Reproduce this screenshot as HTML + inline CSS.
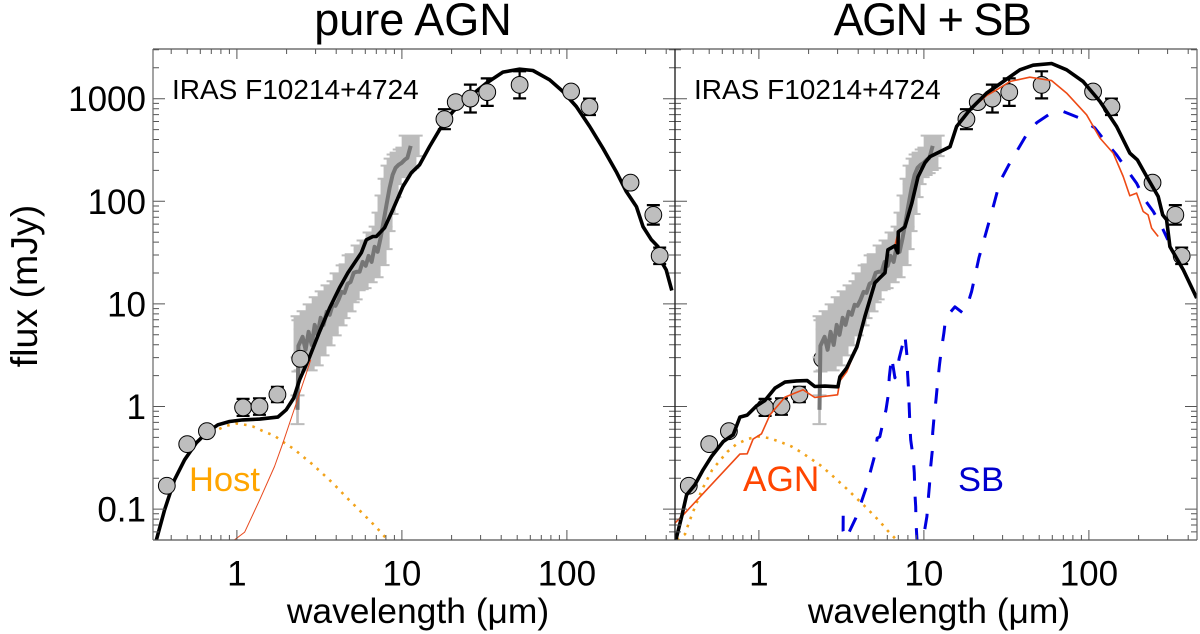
<!DOCTYPE html>
<html lang="en">
<head>
<meta charset="utf-8">
<title>SED fits of IRAS F10214+4724</title>
<style>
html,body{margin:0;padding:0;background:#fff;}
svg{display:block;font-family:"Liberation Sans",sans-serif;}
</style>
</head>
<body>
<svg id="chart" xmlns="http://www.w3.org/2000/svg" width="1200" height="634" viewBox="0 0 1200 634">
  <rect width="1200" height="634" fill="#fff"/>
  <defs>
    <clipPath id="clip-left"><rect x="153" y="49" width="522" height="491"/></clipPath>
    <clipPath id="clip-right"><rect x="675" y="49" width="522" height="491"/></clipPath>
  </defs>
  <g id="left-panel"></g>
  <g id="right-panel"></g>
  <text x="413" y="35" font-size="45" text-anchor="middle">pure AGN</text>
  <text x="932" y="35" font-size="45" letter-spacing="-1.5" text-anchor="middle">AGN + SB</text>
  <text transform="translate(37,286) rotate(-90)" font-size="37.5" text-anchor="middle">flux (mJy)</text>
  <text x="418" y="623" font-size="35.4" text-anchor="middle">wavelength (μm)</text>
  <text x="939" y="623" font-size="35.4" text-anchor="middle">wavelength (μm)</text>
  <text x="172" y="99" font-size="28">IRAS F10214+4724</text>
  <text x="694" y="99" font-size="28">IRAS F10214+4724</text>
  <text x="189" y="491" font-size="34.5" fill="#ffa500">Host</text>
  <text x="743" y="491" font-size="35.2" fill="#ff4500">AGN</text>
  <text x="958" y="491" font-size="34.5" fill="#0000cd">SB</text>
</svg>
<script>
// Photometry: wavelength (um), flux (mJy), symmetric error (dex, 0 = no visible bar)
const photWave = [0.376,0.50,0.658,1.09,1.37,1.76,2.42,18.1,21.2,26,32.9,51.7,106,137,243,334,365];
const photFlux = [0.169,0.43,0.575,0.98,1.0,1.31,2.92,632,927,1004,1159,1365,1175,834,152,73.8,29.4];
const photErrDex = [0,0,0,0.083,0.08,0.075,0,0.0975,0,0.136,0.134,0.132,0,0.08,0,0.095,0.08];

// IRS / near-IR spectrum: wavelength (um), flux (mJy), error (dex)
const specWave = [2.33,2.36,2.50,2.61,2.72,2.84,2.96,3.08,3.22,3.35,3.50,3.65,3.80,3.96,4.13,4.31,4.49,4.69,4.89,5.10,5.32,5.54,5.78,6.03,6.28,6.55,6.83,7.12,7.43,7.74,8.07,8.42,8.78,9.16,9.55,9.96,10.4,10.8,11.3];
const specFlux = [0.93,3.9,4.78,3.57,5.35,3.99,6.25,5.0,7.32,6.25,8.37,7.83,9.8,9.58,11.0,13.1,12.8,15.7,16.4,20.1,20.6,20.6,25.7,23.5,29.4,25.7,36.0,32.2,44,63,92.5,135,181,212,227,237,254,265,347];
const specErrDex = [0.14,0.25,0.2,0.2,0.2,0.2,0.2,0.2,0.2,0.2,0.2,0.2,0.19,0.19,0.18,0.18,0.18,0.18,0.17,0.17,0.17,0.16,0.16,0.16,0.15,0.15,0.14,0.13,0.11,0.09,0.09,0.09,0.09,0.09,0.1,0.1,0.1,0.1,0.1];

// Pure-AGN panel model curves (log10 um, log10 mJy)
const leftModelLogWave = [-.488,-.438,-.378,-.317,-.246,-.182,-.115,-.044,.036,.138,.248,.299,.344,.38,.441,.501,.562,.622,.673,.754,.784,.824,.845,.895,.945,1.006,1.057,1.107,1.168,1.228,1.309,1.41,1.512,1.612,1.713,1.794,1.895,1.976,2.057,2.138,2.218,2.299,2.36,2.421,2.461,2.512,2.552,2.572,2.602,2.636];
const leftModelLogFlux = [-1.299,-1.007,-.714,-.519,-.354,-.253,-.178,-.146,-.13,-.123,-.103,-.032,.082,.26,.487,.731,.959,1.157,1.303,1.498,1.625,1.657,1.657,1.742,1.917,2.144,2.278,2.356,2.534,2.697,2.875,3.021,3.152,3.259,3.288,3.275,3.184,3.07,2.924,2.729,2.518,2.29,2.096,1.949,1.754,1.625,1.559,1.413,1.332,1.131];
const leftAgnLogWave = [-.014,.047,.138,.228,.279,.36,.421,.447];
const leftAgnLogFlux = [-1.299,-1.224,-.909,-.585,-.357,.033,.326,.455];
const leftHostLogWave = [-.192,-.139,-.071,-.004,.062,.097,.164,.229,.285,.346,.40,.454,.507,.56,.609,.659,.708,.76,.811,.859,.906,.932];
const leftHostLogFlux = [-.315,-.244,-.191,-.166,-.181,-.195,-.244,-.286,-.351,-.415,-.487,-.558,-.636,-.714,-.792,-.877,-.955,-1.039,-1.121,-1.202,-1.287,-1.348];

// AGN + SB panel model curves (log10 um, log10 mJy)
const rightModelLogWave = [-.503,-.468,-.438,-.388,-.338,-.287,-.216,-.156,-.115,-.071,-.014,.036,.097,.158,.228,.293,.339,.4,.479,.491,.533,.594,.642,.703,.733,.764,.782,.824,.842,.845,.885,.927,.964,1.006,1.036,1.097,1.158,1.198,1.279,1.38,1.481,1.582,1.662,1.774,1.865,1.965,2.067,2.168,2.248,2.293,2.35,2.42,2.447,2.471,2.491,2.572,2.653];
const rightModelLogFlux = [-1.299,-1.072,-.861,-.763,-.617,-.487,-.341,-.276,-.103,-.084,.007,.058,.179,.238,.25,.253,.195,.199,.192,.289,.377,.582,.874,1.206,1.254,1.303,1.527,1.566,1.498,1.703,1.751,1.985,2.239,2.375,2.434,2.483,2.531,2.729,2.892,3.055,3.168,3.282,3.327,3.343,3.282,3.168,2.973,2.729,2.47,2.405,2.242,2.047,1.868,1.82,1.559,1.332,1.057];
const rightAgnLogWave = [-.509,-.459,-.115,-.071,-.035,.016,.067,.158,.268,.339,.477,.491,.533,.594,.642,.703,.733,.764,.782,.824,.845,.885,.927,.964,1.006,1.036,1.097,1.158,1.198,1.279,1.38,1.441,1.521,1.642,1.774,1.865,1.986,2.067,2.147,2.208,2.248,2.289,2.329,2.359,2.38,2.42];
const rightAgnLogFlux = [-1.136,-1.056,-.464,-.461,-.318,-.266,-.081,.092,.163,.088,.114,.25,.34,.582,.874,1.206,1.254,1.303,1.527,1.566,1.703,1.751,1.985,2.239,2.375,2.434,2.483,2.531,2.729,2.892,3.03,3.087,3.168,3.21,3.177,3.055,2.843,2.616,2.47,2.242,2.054,2.08,1.901,1.868,1.739,1.657];
const rightHostLogWave = [-.497,-.448,-.424,-.398,-.347,-.283,-.236,-.192,-.139,-.071,-.004,.062,.133,.198,.259,.319,.374,.428,.481,.533,.584,.635,.683,.733,.78,.828];
const rightHostLogFlux = [-1.299,-1.244,-1.131,-1.023,-.819,-.617,-.526,-.442,-.37,-.318,-.292,-.308,-.347,-.39,-.448,-.513,-.575,-.649,-.727,-.802,-.883,-.961,-1.039,-1.121,-1.209,-1.289];
const rightSbLogWave = [.511,.51,.524,.545,.588,.622,.653,.679,.703,.717,.733,.745,.77,.784,.79,.804,.824,.838,.85,.875,.885,.899,.901,.907,.911,.915,.92,.935,.942,.945,.95,.952,.958,.976,1.002,1.018,1.026,1.034,1.041,1.05,1.053,1.062,1.073,1.083,1.093,1.104,1.121,1.132,1.188,1.232,1.259,1.289,1.309,1.333,1.41,1.461,1.521,1.562,1.622,1.683,1.764,1.844,1.945,2.036,2.107,2.168,2.238,2.289,2.339,2.39,2.441,2.479];
const rightSbLogFlux = [-1.065,-1.211,-1.289,-1.231,-1.085,-.926,-.78,-.617,-.471,-.308,-.295,-.208,-.032,.114,.289,.484,.28,.358,.472,.631,.699,.472,.319,.163,0,-.178,-.325,-.5,-.646,-.828,-.975,-1.134,-1.299,-1.494,-1.231,-1.072,-.909,-.763,-.585,-.439,-.256,-.1,.065,.231,.39,.536,.718,.865,.972,.916,.962,1.121,1.267,1.449,1.888,2.193,2.375,2.485,2.648,2.765,2.853,2.875,2.811,2.716,2.567,2.453,2.29,2.177,2.015,1.901,1.754,1.625];

// Axis ticks
const xTickValues = [1,10,100];
const xTickLabels = ['1','10','100'];
const yTickValues = [0.1,1,10,100,1000];
const yTickLabels = ['0.1','1','10','100','1000'];
const minorMultiples = [2,3,4,5,6,7,8,9];

// Axis ranges and geometry
const xLogMin = -0.5085, xLogMax = 2.6551, yLogMin = -1.301, yLogMax = 3.4846;
const plotTop = 49, plotBottom = 540, plotWidth = 522;
const NS = 'http://www.w3.org/2000/svg';

function xFromLog(panelLeft, lw){ return panelLeft + (lw - xLogMin) / (xLogMax - xLogMin) * plotWidth; }
function yFromLog(lf){ return plotBottom - (lf - yLogMin) / (yLogMax - yLogMin) * (plotBottom - plotTop); }
function xFromWave(panelLeft, w){ return xFromLog(panelLeft, Math.log10(w)); }
function yFromFlux(f){ return yFromLog(Math.log10(f)); }

function make(tag, parent, attrs){
  const el = document.createElementNS(NS, tag);
  for (const k in attrs) el.setAttribute(k, attrs[k]);
  parent.appendChild(el);
  return el;
}

function drawCurve(g, left, clip, logW, logF, name, style){
  const pts = logW.map((lw, i) => xFromLog(left, lw).toFixed(1) + ',' + yFromLog(logF[i]).toFixed(1)).join(' ');
  const el = make('polyline', g, Object.assign({points: pts, fill: 'none', 'stroke-linejoin': 'round', 'clip-path': 'url(#' + clip + ')'}, style));
  
  
  return el;
}

function drawSpectrum(g, left, clip){
  const band = make('g', g, {fill: '#bcbcbc', stroke: 'none', 'clip-path': 'url(#' + clip + ')'});
  
  
  specWave.forEach((w, i) => {
    const x = xFromWave(left, w);
    const hi = yFromLog(Math.log10(specFlux[i]) + specErrDex[i]);
    const lo = yFromLog(Math.log10(specFlux[i]) - specErrDex[i]);
    const half = w < 2.4 ? 1.3 : 9;
    const cap = w < 2.4 ? 7 : 12;
    const bar = make('rect', band, {x: x - half, y: hi, width: half * 2, height: lo - hi});
    
    
    const caps = make('path', band, {d: 'M' + (x - cap) + ' ' + lo + 'H' + (x + cap) + 'M' + (x - cap) + ' ' + hi + 'H' + (x + cap), stroke: '#bcbcbc', 'stroke-width': 2, fill: 'none'});
    
    
  });
  const pts = specWave.map((w, i) => xFromWave(left, w).toFixed(1) + ',' + yFromFlux(specFlux[i]).toFixed(1)).join(' ');
  const line = make('polyline', g, {points: pts, fill: 'none', stroke: '#767676', 'stroke-width': 4, 'stroke-linejoin': 'round'});
  
  
}

function drawPhotometry(g, left){
  photWave.forEach((w, i) => {
    const x = xFromWave(left, w);
    const y = yFromFlux(photFlux[i]);
    if (photErrDex[i] > 0) {
      const hi = yFromLog(Math.log10(photFlux[i]) + photErrDex[i]);
      const lo = yFromLog(Math.log10(photFlux[i]) - photErrDex[i]);
      const err = make('path', g, {d: 'M' + x + ' ' + lo + 'V' + hi + 'M' + (x - 6.5) + ' ' + lo + 'H' + (x + 6.5) + 'M' + (x - 6.5) + ' ' + hi + 'H' + (x + 6.5), stroke: '#000', 'stroke-width': 2.2, fill: 'none'});
      
      
    }
    const dot = make('circle', g, {cx: x, cy: y, r: 8.4, fill: '#bebebe', stroke: '#000', 'stroke-width': 1});
    
    
  });
}

function drawAxes(g, left, leftFrameColor, rightFrameColor){
  const right = left + plotWidth;
  const tickStyle = {stroke: '#555', 'stroke-width': 1, fill: 'none'};
  let d = '';
  // x ticks on top and bottom
  for (let dec = -1; dec <= 2; dec++) {
    const base = Math.pow(10, dec);
    minorMultiples.forEach(m => {
      const lw = Math.log10(m * base);
      if (lw > xLogMin && lw < xLogMax) {
        const x = xFromLog(left, lw).toFixed(1);
        d += 'M' + x + ' ' + plotBottom + 'v-5M' + x + ' ' + plotTop + 'v5';
      }
    });
  }
  xTickValues.forEach(v => {
    const x = xFromWave(left, v).toFixed(1);
    d += 'M' + x + ' ' + plotBottom + 'v-10M' + x + ' ' + plotTop + 'v10';
  });
  // y ticks on left and right
  for (let dec = -2; dec <= 3; dec++) {
    const base = Math.pow(10, dec);
    minorMultiples.forEach(m => {
      const lf = Math.log10(m * base);
      if (lf > yLogMin && lf < yLogMax) {
        const y = yFromLog(lf).toFixed(1);
        d += 'M' + left + ' ' + y + 'h6M' + right + ' ' + y + 'h-6';
      }
    });
  }
  yTickValues.forEach(v => {
    const y = yFromFlux(v).toFixed(1);
    d += 'M' + left + ' ' + y + 'h12M' + right + ' ' + y + 'h-12';
  });
  const ticks = make('path', g, Object.assign({d: d}, tickStyle));
  
  
  const frame = make('path', g, {d: 'M' + left + ' ' + plotTop + 'H' + right + 'M' + left + ' ' + plotBottom + 'H' + right, stroke: '#555', 'stroke-width': 1.2, fill: 'none'});
  
  
  const leftEdge = make('line', g, {x1: left, x2: left, y1: plotTop, y2: plotBottom, stroke: leftFrameColor, 'stroke-width': 1.2});
  
  
  const rightEdge = make('line', g, {x1: right, x2: right, y1: plotTop, y2: plotBottom, stroke: rightFrameColor, 'stroke-width': 1.2});
  
  
  xTickValues.forEach((v, i) => {
    const t = make('text', g, {x: xFromWave(left, v), y: 585.5, 'font-size': 35, 'text-anchor': 'middle'});
    t.textContent = xTickLabels[i];
    
    
  });
}

function drawYLabels(g, left){
  yTickValues.forEach((v, i) => {
    const t = make('text', g, {x: left - 7, y: yFromFlux(v) + 12.5, 'font-size': 35, 'text-anchor': 'end'});
    t.textContent = yTickLabels[i];
    
    
  });
}

const leftPanel = document.getElementById('left-panel');
const rightPanel = document.getElementById('right-panel');
const leftEdgeX = 153, rightEdgeX = 675;

// Left panel: spectrum, thin curves, model, then photometry on top
drawSpectrum(leftPanel, leftEdgeX, 'clip-left');
drawCurve(leftPanel, leftEdgeX, 'clip-left', leftHostLogWave, leftHostLogFlux, 'host-component-curve', {stroke: '#f2a31b', 'stroke-width': 2.6, 'stroke-dasharray': '2.6 6'});
drawCurve(leftPanel, leftEdgeX, 'clip-left', leftAgnLogWave, leftAgnLogFlux, 'agn-component-curve', {stroke: '#e8491d', 'stroke-width': 1});
drawCurve(leftPanel, leftEdgeX, 'clip-left', leftModelLogWave, leftModelLogFlux, 'total-model-curve', {stroke: '#000', 'stroke-width': 3.6});
drawPhotometry(leftPanel, leftEdgeX);
drawAxes(leftPanel, leftEdgeX, '#666', '#222');
drawYLabels(leftPanel, leftEdgeX);

// Right panel: photometry under spectrum and model
drawPhotometry(rightPanel, rightEdgeX);
drawSpectrum(rightPanel, rightEdgeX, 'clip-right');
drawCurve(rightPanel, rightEdgeX, 'clip-right', rightHostLogWave, rightHostLogFlux, 'host-component-curve', {stroke: '#f2a31b', 'stroke-width': 2.6, 'stroke-dasharray': '2.6 6'});
drawCurve(rightPanel, rightEdgeX, 'clip-right', rightSbLogWave, rightSbLogFlux, 'starburst-component-curve', {stroke: '#0000e0', 'stroke-width': 3, 'stroke-dasharray': '15.5 16'});
drawCurve(rightPanel, rightEdgeX, 'clip-right', rightAgnLogWave, rightAgnLogFlux, 'agn-component-curve', {stroke: '#ee4a15', 'stroke-width': 1.6});
drawCurve(rightPanel, rightEdgeX, 'clip-right', rightModelLogWave, rightModelLogFlux, 'total-model-curve', {stroke: '#000', 'stroke-width': 3.6});
drawAxes(rightPanel, rightEdgeX, '#222', '#666');
</script>
</body>
</html>
